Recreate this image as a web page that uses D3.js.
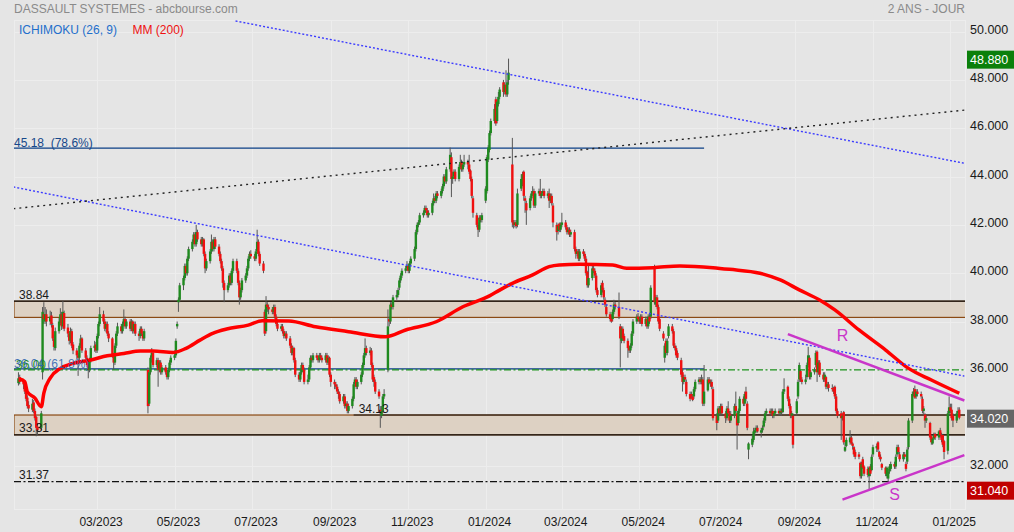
<!DOCTYPE html>
<html><head><meta charset="utf-8">
<script src="https://cdn.jsdelivr.net/npm/d3@7"></script>
<style>
html,body{margin:0;padding:0;background:#e5e5e5;}
svg{display:block;font-family:"Liberation Sans",Arial,sans-serif;}
</style></head><body>
<svg id="c" width="1014" height="532"></svg>
<script>
// ---------------- DATA ----------------
const firstDay = "2022-12-29"; // first trading day (weekdays follow)
const opens = [
35.45,35.7,
35.5,35.4,35.15,34.85,34.55,
34.35,34.65,34.3,34.05,33.65,
33.6,35.9,38.3,38.0,38.3,
38.0,38.25,37.85,37.3,36.9,
37.6,37.95,38.3,37.8,38.35,
37.75,37.5,37.2,37.6,37.05,
36.8,36.6,36.5,37.0,37.3,
36.8,36.5,36.25,36.0,36.4,
36.9,37.05,36.8,37.4,37.9,
38.3,38.0,37.7,37.9,37.5,
37.3,36.6,36.3,37.0,37.5,
37.8,37.6,37.9,38.1,37.8,
38.0,37.7,38.0,37.6,37.9,
37.5,37.4,37.7,37.5,37.3,
36.0,34.6,35.9,36.5,36.7,
36.2,36.4,36.0,36.3,35.9,
36.1,35.9,35.7,36.0,36.3,
36.5,36.6,37.8,38.8,38.9,
39.5,39.8,40.3,40.0,40.6,
41.0,41.3,41.6,41.2,41.7,
41.4,41.2,41.4,40.8,40.2,
40.5,40.9,41.3,41.0,41.4,
41.1,40.8,40.5,40.2,39.6,
39.3,39.5,39.9,39.6,40.1,
40.5,40.1,39.6,39.0,39.3,
39.7,39.9,40.2,40.6,40.8,
40.7,40.6,40.9,41.3,40.8,
40.4,38.4,37.6,38.7,38.6,
38.5,38.4,38.6,38.2,37.9,
37.7,37.8,37.6,37.4,37.5,
37.3,37.0,36.7,36.9,36.4,
35.8,35.6,35.9,36.2,36.0,
35.5,35.6,36.1,36.5,36.4,
36.6,36.5,36.4,36.6,36.5,
36.4,36.6,36.3,36.5,35.8,
35.5,35.4,35.3,35.1,35.0,
34.7,34.9,34.5,34.6,34.3,
34.5,34.8,35.4,35.6,35.3,
35.5,35.8,36.2,36.6,36.9,
36.7,36.8,36.2,35.7,35.5,
35.1,34.35,34.1,34.3,34.9,
36.0,38.1,38.0,38.7,38.6,
39.0,39.1,39.4,39.7,39.9,
40.1,40.2,40.3,40.1,40.4,
40.6,41.0,41.7,42.0,42.1,
42.4,42.5,42.7,42.6,42.4,
42.5,42.9,43.1,43.0,43.3,
43.2,43.4,43.6,44.0,43.8,
44.3,44.8,43.9,44.0,44.2,
43.9,44.4,44.6,44.3,44.5,
44.6,44.5,44.25,43.9,43.1,
42.4,42.0,41.8,42.3,42.2,
43.0,43.4,44.7,45.1,45.8,
46.3,47.2,46.3,47.0,47.3,
47.9,47.5,47.8,47.4,48.0,
44.5,42.1,42.0,42.1,42.0,
43.5,43.7,44.2,43.1,42.9,
42.7,43.1,43.3,43.4,42.8,
43.3,43.4,43.2,43.3,43.4,
43.2,43.3,43.0,43.2,42.8,
42.0,41.75,42.05,41.8,42.0,
42.1,41.9,41.7,41.8,41.6,
41.7,41.0,40.8,40.9,40.6,
40.9,40.8,40.6,40.05,39.5,
39.8,40.2,40.1,39.9,39.3,
39.1,39.6,39.3,38.9,38.6,
38.3,38.2,38.1,38.4,38.7,
38.6,37.8,37.2,37.7,37.4,
37.2,36.95,36.8,37.0,37.5,
38.0,38.2,38.1,38.0,38.2,
37.9,38.1,37.8,38.2,38.2,
40.2,38.7,39.0,38.6,38.1,
37.5,36.5,37.2,36.7,37.4,
37.8,37.6,37.0,36.9,36.7,
36.4,35.9,35.5,35.7,35.5,
35.0,35.0,34.9,34.9,35.2,
35.5,35.6,35.5,35.6,34.6,
35.15,35.6,35.45,35.5,35.2,
34.1,33.9,34.4,34.2,34.5,
34.2,34.0,34.4,34.2,33.9,
34.1,34.5,34.2,33.8,34.3,
34.8,34.6,35.1,34.6,32.7,
32.9,33.1,33.4,33.5,33.6,
33.4,33.5,33.65,33.9,34.2,
34.3,34.2,34.3,34.1,34.2,
34.3,34.2,34.3,34.25,35.1,
35.3,34.8,34.5,34.1,34.1,
34.2,34.9,35.6,35.95,35.6,
35.5,35.7,36.2,36.5,35.7,
35.9,36.2,36.75,35.9,36.3,
35.8,35.6,35.7,35.3,35.4,
35.25,35.2,35.3,34.9,34.3,
34.2,34.0,34.25,32.65,32.85,
33.0,33.2,32.95,32.8,32.6,
32.5,32.15,31.6,32.3,32.0,
31.9,31.6,32.0,31.85,32.5,
32.75,33.0,32.6,32.4,32.1,
31.95,31.6,31.5,31.8,31.9,
32.1,32.0,32.5,32.8,32.5,
32.3,32.5,32.1,32.2,32.8,
33.9,35.0,35.2,34.9,35.1,
35.0,34.8,34.3,34.15,33.9,
33.8,33.25,32.95,33.15,33.35,
33.2,33.5,33.3,33.3,33.05,
32.65,34.2,34.45,34.35,34.1,
33.9,34.2,34.35];
const highs = [
35.9,35.8,
35.6,35.5,35.2,34.95,34.7,
34.8,34.75,34.4,34.1,33.8,
34.3,38.6,38.8,38.6,38.5,
38.45,38.4,37.95,37.45,37.75,
38.15,38.55,38.4,38.85,38.45,
37.9,37.6,37.75,37.7,37.15,
36.9,36.7,37.1,37.45,37.35,
36.9,36.6,36.3,36.5,37.0,
37.2,37.15,37.5,38.0,38.6,
38.45,38.1,38.0,38.0,37.6,
37.35,36.7,37.1,37.6,37.95,
37.9,38.0,38.5,38.2,38.1,
38.1,38.1,38.05,38.0,38.0,
37.6,37.8,37.8,37.6,37.7,
36.1,36.0,36.6,36.9,36.8,
36.5,36.5,36.4,36.4,36.2,
36.2,36.0,36.1,36.4,36.6,
36.8,37.3,38.0,39.0,39.6,
39.9,40.4,40.4,40.7,41.1,
41.4,41.7,41.7,42.0,41.8,
41.5,41.5,41.45,40.9,40.6,
41.0,41.6,41.4,41.5,41.5,
41.2,40.9,40.6,40.3,39.7,
39.6,40.0,40.0,40.2,40.6,
40.6,40.2,39.7,39.4,39.8,
40.0,40.3,40.7,40.9,40.95,
40.8,41.0,41.8,41.4,40.9,
40.5,38.5,39.05,38.8,38.7,
38.6,38.7,38.7,38.3,38.0,
37.9,37.9,37.7,37.6,37.6,
37.4,37.1,37.0,36.95,36.5,
35.9,36.0,36.3,36.3,36.1,
35.8,36.2,36.6,36.6,36.7,
36.7,36.6,36.7,36.7,36.6,
36.7,36.7,36.6,36.55,35.9,
35.6,35.5,35.4,35.2,35.1,
35.0,35.0,34.7,34.7,34.6,
34.9,35.5,35.7,35.7,35.6,
35.9,36.3,36.7,37.3,37.0,
36.95,36.9,36.3,35.8,35.6,
35.2,34.5,34.5,35.0,35.2,
38.5,38.2,38.8,38.8,39.1,
39.3,39.4,39.8,40.0,40.2,
40.3,40.5,40.4,40.5,40.7,
41.1,41.8,42.1,42.2,42.5,
42.6,42.8,42.8,42.7,42.6,
43.0,43.3,43.2,43.4,43.4,
43.5,43.7,44.1,44.1,44.4,
45.2,45.0,44.2,44.3,44.3,
44.5,44.9,44.7,44.6,44.9,
44.7,44.9,44.3,44.0,43.2,
42.5,42.1,42.4,42.4,42.5,
43.6,44.9,45.3,45.9,46.4,
47.0,47.3,47.2,47.5,47.7,
48.0,47.9,48.4,48.0,48.88,
45.6,42.2,42.2,42.2,43.5,
44.1,44.2,44.25,43.2,43.0,
43.2,43.4,43.6,43.5,43.4,
43.5,43.9,43.4,43.5,43.5,
43.4,43.5,43.3,43.3,42.9,
42.1,42.05,42.1,42.1,42.5,
42.2,42.0,41.9,41.9,41.8,
41.8,41.1,41.0,41.0,41.0,
41.0,40.9,40.7,40.1,40.3,
40.3,40.3,40.2,40.0,39.4,
39.6,39.7,39.4,39.0,38.7,
38.4,38.3,38.5,38.9,38.8,
39.2,37.9,37.8,37.8,37.5,
37.3,37.0,37.1,37.6,38.1,
38.3,38.35,38.2,38.3,38.3,
38.2,38.2,38.3,38.3,39.5,
40.35,39.1,39.1,38.7,38.2,
37.6,37.1,37.3,37.3,37.9,
37.9,37.7,37.1,37.0,36.8,
36.5,36.0,35.8,35.8,35.6,
35.1,35.1,35.0,35.3,35.6,
35.7,35.7,35.8,35.7,36.2,
35.7,35.7,35.6,35.6,35.3,
34.2,34.5,34.5,34.6,34.6,
34.3,34.5,34.7,34.3,34.3,
34.6,35.1,34.3,34.4,34.9,
34.9,35.1,35.3,34.7,33.0,
33.3,33.6,33.6,33.7,33.7,
33.6,33.7,34.0,34.3,34.4,
34.4,34.4,34.4,34.3,34.4,
34.4,34.4,34.4,35.2,35.65,
35.35,34.9,34.6,34.3,34.2,
34.8,35.6,36.3,36.0,35.7,
35.8,36.3,36.95,36.6,36.0,
36.1,36.8,36.8,36.4,36.4,
35.9,35.9,35.75,35.5,35.5,
35.4,35.3,35.35,35.0,34.4,
34.3,34.2,34.3,33.0,33.2,
33.5,33.3,33.0,32.85,32.7,
32.6,32.2,32.2,32.4,32.05,
32.0,32.0,32.1,32.5,32.9,
32.95,33.05,32.65,32.5,32.15,
32.0,32.0,31.9,32.1,32.2,
32.2,32.5,32.9,32.9,32.6,
32.6,32.6,32.2,32.8,34.0,
35.1,35.25,35.35,35.2,35.2,
35.1,34.9,34.5,34.2,34.1,
33.85,33.3,33.2,33.4,33.4,
33.5,33.6,33.4,33.35,33.1,
34.3,34.9,34.6,34.6,34.2,
34.3,34.45,34.45];
const lows = [
35.35,35.4,
35.2,35.0,34.7,34.4,34.25,
34.25,34.2,33.9,33.25,33.31,
33.5,35.6,37.9,37.9,37.8,
37.85,37.75,37.2,36.8,36.8,
37.5,37.85,37.65,37.7,37.6,
37.35,37.05,37.1,36.9,36.65,
36.45,35.75,36.4,36.9,36.7,
36.4,36.1,35.65,35.9,36.3,
36.75,36.7,36.7,37.3,37.8,
37.9,37.6,37.55,37.4,37.15,
36.5,36.0,36.2,36.9,37.4,
37.5,37.5,37.8,37.7,37.7,
37.6,37.6,37.5,37.5,37.4,
37.2,37.3,37.4,37.2,37.2,
34.2,34.5,35.8,36.3,36.1,
36.1,35.3,35.9,35.8,35.8,
35.8,35.6,35.6,35.9,36.2,
36.4,36.5,37.7,38.4,38.8,
39.3,39.7,39.9,39.9,40.5,
40.9,41.2,41.1,41.1,41.3,
41.1,41.1,40.7,40.0,40.1,
40.4,40.8,40.9,40.9,41.0,
40.7,40.4,40.1,39.4,38.8,
39.2,39.4,39.5,39.5,40.0,
40.0,39.5,38.7,38.9,39.2,
39.6,39.8,40.1,40.5,40.6,
40.5,40.5,40.8,40.7,40.3,
40.0,37.4,37.5,38.4,38.3,
38.3,38.3,38.1,37.8,37.6,
37.6,37.5,37.3,37.3,37.2,
36.9,36.6,36.6,36.3,35.7,
35.5,35.5,35.8,35.9,35.4,
35.4,35.5,36.0,36.3,36.3,
36.4,36.3,36.3,36.4,36.3,
36.3,36.2,36.2,35.7,35.3,
35.2,35.2,35.0,34.8,34.6,
34.6,34.4,34.4,34.2,34.2,
34.4,34.7,35.3,35.2,35.2,
35.4,35.7,36.1,36.5,36.6,
36.6,36.1,35.5,35.3,35.0,
34.8,33.6,34.0,34.2,34.8,
35.9,37.8,37.9,38.5,38.5,
38.9,39.0,39.3,39.6,39.8,
40.0,40.1,40.0,40.0,40.3,
40.5,40.9,41.6,41.9,42.0,
42.3,42.4,42.5,42.3,42.3,
42.4,42.8,42.9,42.9,43.1,
43.1,43.3,43.5,43.7,43.7,
44.2,43.15,43.7,43.9,43.8,
43.8,44.3,44.2,44.2,44.4,
44.3,44.1,43.8,43.1,42.3,
41.9,41.5,41.7,42.1,42.1,
42.9,43.3,44.6,45.0,45.7,
46.2,46.1,46.2,46.9,47.2,
47.3,47.4,47.3,47.3,47.8,
41.9,41.85,41.9,41.85,41.9,
43.4,43.6,43.0,42.5,42.0,
42.6,43.0,43.2,42.7,42.7,
43.2,43.1,43.1,43.2,43.1,
43.1,42.7,42.9,42.8,41.9,
41.35,41.6,41.7,41.7,41.9,
41.8,41.6,41.6,41.5,41.5,
40.9,40.6,40.7,40.5,40.5,
40.7,40.5,39.9,39.4,39.4,
39.7,40.0,39.8,39.2,39.0,
39.0,39.2,38.9,38.6,38.2,
38.0,37.95,38.0,38.3,38.5,
38.1,36.1,37.1,37.2,37.1,
36.5,36.7,36.7,36.9,37.4,
37.9,38.0,37.9,37.9,37.8,
37.8,37.7,37.7,37.9,38.1,
38.7,38.6,38.5,37.9,37.6,
37.2,36.3,36.6,36.6,37.3,
37.5,36.9,36.8,36.5,36.4,
35.7,35.1,35.4,35.5,34.9,
34.7,34.8,34.7,34.8,35.1,
35.4,35.4,35.4,34.5,34.5,
35.1,35.4,35.3,35.2,33.9,
33.5,33.8,34.1,34.1,34.1,
33.8,33.9,34.1,33.8,33.8,
34.0,34.2,32.7,33.7,34.2,
34.5,34.5,34.7,33.5,32.3,
32.8,33.0,33.3,33.4,33.4,
33.2,33.4,33.6,33.8,34.1,
34.1,34.1,34.0,34.0,34.1,
34.1,34.1,34.1,34.2,35.0,
34.7,34.4,34.0,34.0,32.75,
34.1,34.8,35.5,35.5,35.4,
35.4,35.6,36.1,35.6,35.6,
35.8,36.1,35.5,35.8,35.7,
35.5,35.5,35.2,35.2,35.1,
35.1,35.0,34.8,34.2,34.0,
33.1,33.9,32.9,32.6,32.8,
32.9,32.9,32.7,32.4,32.3,
32.3,31.5,31.5,31.9,31.6,
31.55,31.04,31.6,31.8,32.4,
32.6,32.6,32.3,32.2,31.85,
31.6,31.5,31.3,31.7,31.8,
31.9,31.9,32.4,32.5,32.2,
32.2,32.3,31.8,32.1,32.7,
33.8,34.9,34.8,34.8,34.9,
34.8,34.2,34.1,33.6,33.8,
33.1,32.9,32.9,33.1,33.1,
33.1,33.2,33.0,32.8,32.3,
32.5,34.1,34.2,33.9,33.63,
33.8,34.1,33.95];
const closes = [
35.65,35.5,
35.4,35.1,34.8,34.5,34.4,
34.6,34.3,34.0,33.6,33.5,
34.2,38.4,38.1,38.3,38.0,
38.2,37.9,37.3,36.95,37.6,
38.0,38.3,37.8,38.4,37.7,
37.5,37.2,37.6,37.0,36.8,
36.6,36.5,37.0,37.3,36.8,
36.5,36.2,36.0,36.4,36.9,
37.0,36.8,37.4,37.9,38.3,
38.0,37.7,37.9,37.5,37.3,
36.6,36.3,37.0,37.5,37.8,
37.6,37.9,38.1,37.8,38.0,
37.7,38.0,37.6,37.9,37.5,
37.4,37.7,37.5,37.3,37.6,
34.5,35.9,36.5,36.7,36.2,
36.4,36.0,36.3,35.9,36.1,
35.9,35.7,36.0,36.3,36.5,
36.6,37.2,37.9,38.9,39.5,
39.8,40.3,40.0,40.6,41.0,
41.3,41.6,41.2,41.7,41.4,
41.2,41.4,40.8,40.2,40.5,
40.9,41.3,41.0,41.4,41.1,
40.8,40.5,40.2,39.6,39.3,
39.5,39.9,39.6,40.1,40.5,
40.1,39.6,39.0,39.3,39.7,
39.9,40.2,40.6,40.8,40.7,
40.6,40.9,41.3,40.8,40.4,
40.1,37.5,38.7,38.6,38.5,
38.4,38.6,38.2,37.9,37.7,
37.8,37.6,37.4,37.5,37.3,
37.0,36.7,36.9,36.4,35.8,
35.6,35.9,36.2,36.0,35.5,
35.6,36.1,36.5,36.4,36.6,
36.5,36.4,36.6,36.5,36.4,
36.6,36.3,36.5,35.8,35.5,
35.4,35.3,35.1,35.0,34.7,
34.9,34.5,34.6,34.3,34.5,
34.8,35.4,35.6,35.3,35.5,
35.8,36.2,36.6,36.9,36.7,
36.8,36.2,35.6,35.5,35.1,
34.9,34.2,34.3,34.9,35.0,
37.8,38.0,38.7,38.6,39.0,
39.1,39.3,39.7,39.9,40.1,
40.2,40.3,40.1,40.4,40.6,
41.0,41.7,42.0,42.1,42.4,
42.5,42.7,42.6,42.4,42.5,
42.9,43.1,43.0,43.3,43.2,
43.4,43.6,44.0,43.8,44.3,
44.9,43.9,44.0,44.2,43.9,
44.4,44.6,44.3,44.5,44.6,
44.5,44.2,43.9,43.2,42.5,
42.0,41.8,42.3,42.2,42.4,
43.5,44.8,45.2,45.8,46.3,
46.8,46.2,47.1,47.3,47.6,
47.5,47.8,47.4,47.9,48.3,
42.1,42.0,42.1,41.95,43.3,
43.9,44.1,43.2,43.0,42.6,
43.1,43.3,43.4,42.8,43.3,
43.4,43.2,43.3,43.4,43.2,
43.3,43.0,43.2,42.9,42.1,
41.7,41.95,41.8,42.0,42.1,
41.9,41.7,41.8,41.6,41.7,
41.0,40.8,40.9,40.6,40.9,
40.8,40.6,40.0,39.5,39.8,
40.2,40.1,39.9,39.3,39.1,
39.5,39.3,39.0,38.7,38.3,
38.1,38.0,38.4,38.7,38.6,
38.2,37.3,37.7,37.3,37.2,
36.9,36.8,37.0,37.5,38.0,
38.2,38.1,38.0,38.2,37.9,
38.1,37.8,38.2,38.0,39.4,
38.8,39.0,38.6,38.0,37.7,
37.3,37.0,36.7,37.2,37.8,
37.6,37.0,36.9,36.6,36.5,
35.8,35.5,35.7,35.6,35.0,
34.8,34.9,34.75,35.2,35.5,
35.6,35.5,35.6,34.6,35.1,
35.6,35.45,35.5,35.3,34.0,
33.8,34.4,34.2,34.5,34.2,
34.0,34.4,34.2,33.9,34.1,
34.5,34.3,33.7,34.3,34.8,
34.6,35.0,34.8,33.6,32.95,
33.15,33.45,33.5,33.6,33.45,
33.5,33.6,33.9,34.2,34.3,
34.2,34.3,34.1,34.2,34.3,
34.2,34.3,34.25,35.1,35.2,
34.8,34.5,34.1,34.2,32.9,
34.7,35.5,36.2,35.6,35.5,
35.6,36.2,36.6,35.7,35.9,
36.0,36.7,35.9,36.3,35.8,
35.6,35.8,35.3,35.4,35.25,
35.2,35.1,34.9,34.3,34.1,
34.0,34.1,33.0,32.8,33.1,
33.2,32.95,32.85,32.5,32.4,
32.4,31.6,32.1,31.95,31.7,
31.65,31.95,31.7,32.4,32.8,
32.85,32.7,32.4,32.3,31.95,
31.7,31.95,31.8,32.0,32.1,
32.0,32.4,32.8,32.6,32.3,
32.5,32.4,31.9,32.7,33.9,
35.0,35.1,34.85,35.1,35.0,
34.9,34.3,34.4,33.9,34.0,
33.2,33.0,33.15,33.3,33.2,
33.45,33.3,33.1,32.9,32.6,
34.2,34.45,34.3,34.0,33.9,
34.2,34.3,34.02];

// 200-day moving average
const mmDates = ["2022-12-30","2023-01-03","2023-01-05","2023-01-11","2023-01-16","2023-01-18","2023-01-23","2023-01-31","2023-02-10","2023-02-24","2023-03-09","2023-03-22","2023-04-04","2023-04-14","2023-04-30","2023-05-10","2023-05-21","2023-05-31","2023-06-11","2023-06-28","2023-07-09","2023-07-30","2023-08-20","2023-09-15","2023-10-14","2023-10-30","2023-11-23","2023-12-14","2024-01-04","2024-01-12","2024-01-22","2024-02-07","2024-02-20","2024-02-28","2024-03-15","2024-04-10","2024-04-21","2024-05-12","2024-06-02","2024-06-28","2024-07-11","2024-08-04","2024-08-20","2024-09-04","2024-09-20","2024-10-02","2024-10-21","2024-11-11","2024-11-29","2024-12-17","2025-01-08"];
const mmValues = [35.62,35.51,35.09,34.83,34.47,35.04,35.66,36.06,36.27,36.41,36.58,36.68,36.78,36.78,36.72,36.89,37.23,37.51,37.69,37.85,38.03,38.02,37.78,37.58,37.37,37.65,37.99,38.61,39.06,39.30,39.58,39.93,40.27,40.34,40.37,40.34,40.20,40.23,40.30,40.23,40.16,40.00,39.72,39.31,38.89,38.48,37.65,36.82,36.06,35.58,35.03];

// Axis ticks
const yTicks = [32,34,36,38,40,42,44,46,48,50];
const xTicks = ["2023-03-01","2023-05-01","2023-07-01","2023-09-01","2023-11-01","2024-01-01","2024-03-01","2024-05-01","2024-07-01","2024-09-01","2024-11-01","2025-01-01"];

// Horizontal levels
const zoneTops = [38.84, 34.13];
const zoneBottoms = [38.17, 33.31];
const supportLevel = 31.37;
const fibLevels = [45.18, 36.04];
const fibLabels = ["45.18\u00a0\u00a0(78.6%)", "36.04 (61.8%)"];
const fibEnd = "2024-06-21";
const greenLevel = 36.0;
const level3413Start = "2023-09-19";

// Trend lines [date, value] pairs
const trendUpperBlue = [["2023-06-18",50.44],["2025-01-12",44.55]];
const trendLowerBlue = [["2022-12-25",43.57],["2025-01-12",35.74]];
const trendBlack = [["2022-12-25",42.67],["2025-01-12",46.75]];
const trendR = [["2024-08-26",37.48],["2025-01-12",34.73]];
const trendS = [["2024-10-08",30.63],["2025-01-12",32.47]];
const labelR = ["2024-10-08",37.19];
const labelS = ["2024-11-18",30.63];

// ---------------- CHART ----------------
const svg = d3.select("#c");
const L=14, R=965, T=20, B=509;
const pd = d3.utcParse("%Y-%m-%d");
const x = d3.scaleUtc().domain([new Date(Date.UTC(2022,11,25,12)), new Date(Date.UTC(2025,0,12,12))]).range([L,R]);
const y = d3.scaleLinear().domain([30.24,50.48]).range([B,T]);

// dates of trading days
const n = Math.min(opens.length, highs.length, lows.length, closes.length);
const dates = [];
{ let d = pd(firstDay);
  while (dates.length < n) { const wd = d.getUTCDay(); if (wd!==0 && wd!==6) dates.push(new Date(d)); d = new Date(d.getTime()+864e5); } }
const candles = d3.range(n).map(i=>({d:dates[i],o:opens[i],h:highs[i],l:lows[i],c:closes[i]}));

svg.append("rect").attr("width",1014).attr("height",532).attr("fill","#e5e5e5");
svg.append("defs").append("clipPath").attr("id","clip").append("rect")
  .attr("x",L).attr("y",T).attr("width",R-L).attr("height",B-T);

// grid
const grid = svg.append("g").attr("stroke","#ededed").attr("stroke-width",1);
grid.selectAll(".hg").data(yTicks).join("line")
  .attr("x1",L).attr("x2",R).attr("y1",d=>Math.round(y(d))+0.5).attr("y2",d=>Math.round(y(d))+0.5);
grid.selectAll(".vg").data(xTicks).join("line")
  .attr("y1",T).attr("y2",B).attr("x1",d=>Math.round(x(pd(d)))+0.5).attr("x2",d=>Math.round(x(pd(d)))+0.5);
svg.append("rect").attr("x",L+0.5).attr("y",T+0.5).attr("width",R-L).attr("height",B-T)
  .attr("fill","none").attr("stroke","#ededed");

const plot = svg.append("g").attr("clip-path","url(#clip)");

// zones
plot.selectAll(".zone").data(zoneTops).join("rect")
  .attr("x",L).attr("width",R-L+2)
  .attr("y",(d)=>y(d)).attr("height",(d,i)=>y(zoneBottoms[i])-y(d))
  .attr("fill","#ddd1c3").attr("stroke","#8b4a14").attr("stroke-width",1.2);
// black level lines
plot.append("line").attr("x1",L).attr("x2",R).attr("y1",y(zoneTops[0])).attr("y2",y(zoneTops[0])).attr("stroke","#111").attr("stroke-width",1.2);
plot.append("line").attr("x1",L).attr("x2",R).attr("y1",y(zoneBottoms[1])).attr("y2",y(zoneBottoms[1])).attr("stroke","#111").attr("stroke-width",1.2);
plot.append("line").attr("x1",x(pd(level3413Start))).attr("x2",R).attr("y1",y(zoneTops[1])).attr("y2",y(zoneTops[1])).attr("stroke","#111").attr("stroke-width",1.2);
// support dash-dot
plot.append("line").attr("x1",L).attr("x2",R).attr("y1",y(supportLevel)).attr("y2",y(supportLevel))
  .attr("stroke","#111").attr("stroke-width",1.2).attr("stroke-dasharray","7,2.5,2,2.5");
// fib lines
plot.selectAll(".fib").data(fibLevels).join("line")
  .attr("x1",L).attr("x2",x(pd(fibEnd))).attr("y1",d=>y(d)).attr("y2",d=>y(d))
  .attr("stroke","#0b3f86").attr("stroke-width",1.3);
plot.append("line").attr("x1",L).attr("x2",R).attr("y1",y(greenLevel)).attr("y2",y(greenLevel))
  .attr("stroke","#1a8f1a").attr("stroke-width",1.3).attr("stroke-dasharray","7,2.5,2,2.5");

// candles
const bw = 2.4;
const cg = plot.append("g");
cg.selectAll(".wick").data(candles).join("line")
  .attr("x1",d=>x(d.d)).attr("x2",d=>x(d.d))
  .attr("y1",d=>y(Math.max(d.h,d.o,d.c))).attr("y2",d=>y(Math.min(d.l,d.o,d.c)))
  .attr("stroke","#555").attr("stroke-width",1);
cg.selectAll(".body").data(candles).join("rect")
  .attr("x",d=>x(d.d)-bw/2).attr("width",bw)
  .attr("y",d=>y(Math.max(d.o,d.c)))
  .attr("height",d=>Math.max(1,y(Math.min(d.o,d.c))-y(Math.max(d.o,d.c))))
  .attr("fill",d=>d.c>=d.o?"#1f8a1f":"#f01010");

// moving average
const mm = mmDates.map((d,i)=>({d:pd(d),v:mmValues[i]}));
plot.append("path").datum(mm)
  .attr("d",d3.line().x(d=>x(d.d)).y(d=>y(d.v)).curve(d3.curveMonotoneX))
  .attr("fill","none").attr("stroke","#ff0000").attr("stroke-width",3.5).attr("stroke-linejoin","round");

// trend lines
const tl = d3.line().x(p=>x(pd(p[0]))).y(p=>y(p[1]));
plot.append("path").datum(trendUpperBlue).attr("d",tl).attr("fill","none").attr("stroke","#3b3bff").attr("stroke-width",1.4).attr("stroke-dasharray","2,2");
plot.append("path").datum(trendLowerBlue).attr("d",tl).attr("fill","none").attr("stroke","#3b3bff").attr("stroke-width",1.4).attr("stroke-dasharray","2,2");
plot.append("path").datum(trendBlack).attr("d",tl).attr("fill","none").attr("stroke","#222").attr("stroke-width",1.4).attr("stroke-dasharray","2,4");
plot.append("path").datum(trendR).attr("d",tl).attr("fill","none").attr("stroke","#c935c9").attr("stroke-width",2.5);
plot.append("path").datum(trendS).attr("d",tl).attr("fill","none").attr("stroke","#c935c9").attr("stroke-width",2.5);

// level labels
const lab = svg.append("g").attr("font-size","12px").attr("fill","#1a1a1a");
lab.append("text").attr("x",19).attr("y",y(zoneTops[0])-2).text(zoneTops[0].toFixed(2));
lab.append("text").attr("x",19).attr("y",y(zoneBottoms[1])-2.5).text(zoneBottoms[1].toFixed(2));
lab.append("text").attr("x",19).attr("y",y(supportLevel)-3).text(supportLevel.toFixed(2));
lab.append("text").attr("x",x(pd(level3413Start))+5).attr("y",y(zoneTops[1])-2).text(zoneTops[1].toFixed(2));
svg.append("text").attr("x",14).attr("y",y(fibLevels[0])-1.5).attr("font-size","12px").attr("fill","#16488a").text(fibLabels[0]);
svg.append("text").attr("x",16).attr("y",y(greenLevel)-1).attr("font-size","12px").attr("fill","#1a8f1a").text(greenLevel.toFixed(2));
svg.append("text").attr("x",14).attr("y",y(fibLevels[1])-1).attr("font-size","12px").attr("fill","#2a5fae").attr("fill-opacity",0.85).text(fibLabels[1]);
svg.append("text").attr("x",x(pd(labelR[0]))).attr("y",y(labelR[1])).attr("font-size","16px").attr("fill","#c935c9").attr("text-anchor","middle").text("R");
svg.append("text").attr("x",x(pd(labelS[0]))).attr("y",y(labelS[1])).attr("font-size","16px").attr("fill","#c935c9").attr("text-anchor","middle").text("S");

// value badges
const hi = d3.max(highs), lo = d3.min(lows), last = closes[n-1];
const badges = [[hi,"#0b800b"],[last,"#666666"],[lo,"#c00000"]];

// axes (tick labels hidden where a value badge covers them)
const shownY = yTicks.filter(t => badges.every(([v]) => Math.abs(y(t)-y(v)) > 12));
const yAxis = d3.axisRight(y).tickValues(shownY).tickFormat(d3.format(".3f")).tickSize(0).tickPadding(5);
const ya = svg.append("g").attr("transform",`translate(${R},0)`).call(yAxis);
ya.select(".domain").remove();
ya.selectAll("text").attr("font-size","12.5px").attr("fill","#1a1a1a").attr("font-family","Liberation Sans, Arial, sans-serif").attr("dy","0.13em");

const xAxis = d3.axisBottom(x).tickValues(xTicks.map(pd)).tickFormat(d3.utcFormat("%m/%Y")).tickSize(0).tickPadding(8.5);
const xa = svg.append("g").attr("transform",`translate(0,${B})`).call(xAxis);
xa.select(".domain").remove();
xa.selectAll("text").attr("font-size","12px").attr("fill","#1a1a1a").attr("font-family","Liberation Sans, Arial, sans-serif").attr("dx","3.4");

badges.forEach(([v,col])=>{
  const yy = y(v);
  svg.append("rect").attr("x",967).attr("y",yy-8).attr("width",47).attr("height",18).attr("fill",col);
  svg.append("text").attr("x",970).attr("y",yy+5.5).attr("font-size","12.5px").attr("fill","#fff").text(v.toFixed(3));
});

// header
svg.append("text").attr("x",14).attr("y",13).attr("font-size","12px").attr("fill","#8a8a8a").text("DASSAULT SYSTEMES - abcbourse.com");
svg.append("text").attr("x",965).attr("y",13).attr("text-anchor","end").attr("font-size","12px").attr("fill","#8a8a8a").text("2 ANS - JOUR");
svg.append("text").attr("x",19).attr("y",33.5).attr("font-size","12px").attr("fill","#1f6fcb").text("ICHIMOKU (26, 9)");
svg.append("text").attr("x",132.5).attr("y",33.5).attr("font-size","12px").attr("fill","#ee1111").text("MM (200)");
</script>
</body></html>
